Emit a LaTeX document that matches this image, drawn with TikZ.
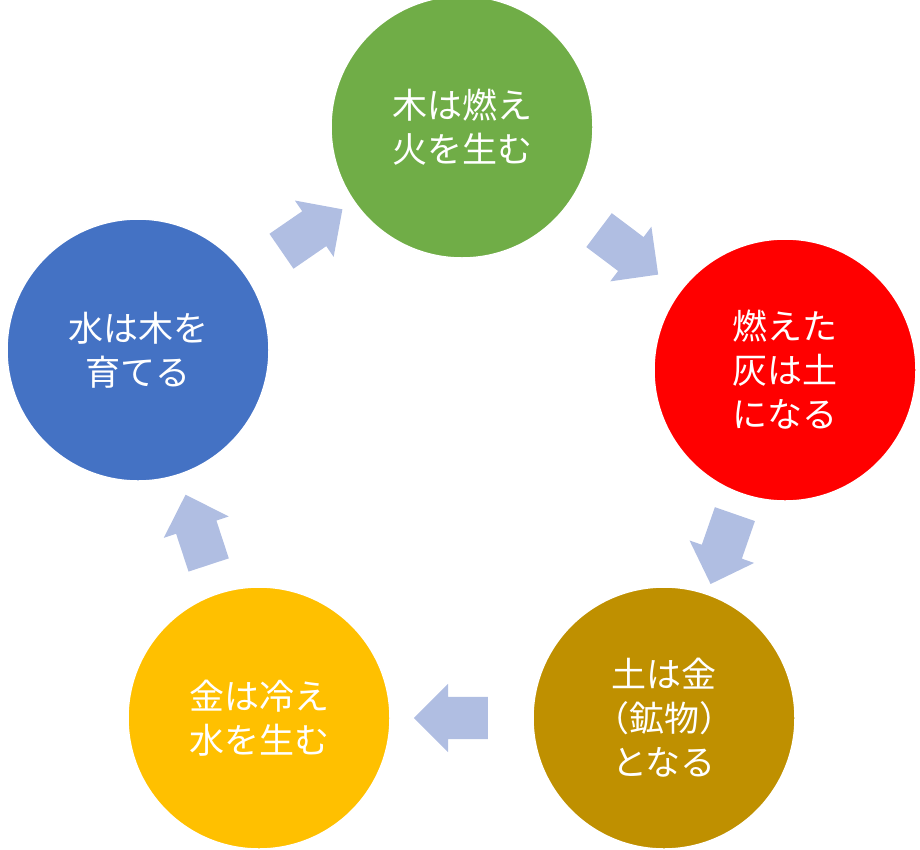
\documentclass[tikz,border=0pt]{standalone}
\usepackage{fontspec}
\newfontfamily\jpfont{Noto Sans CJK JP}
\usetikzlibrary{shapes.arrows}
\definecolor{kgreen}{HTML}{70AD47}
\definecolor{kred}{HTML}{FF0000}
\definecolor{kbrown}{HTML}{BF9000}
\definecolor{kyellow}{HTML}{FFC000}
\definecolor{kblue}{HTML}{4472C4}
\definecolor{karrow}{HTML}{B0BEE2}
\tikzset{
  element/.style={circle, draw=white, line width=1.5pt, minimum size=262pt, inner sep=0pt,
    text=white, align=center, font=\jpfont\fontsize{35}{44}\selectfont},
  flow/.style={single arrow, fill=karrow, draw=none, minimum height=74pt,
    inner xsep=0pt, inner ysep=21pt, single arrow head extend=13pt,
    sloped, allow upside down}
}
\begin{document}
\begin{tikzpicture}[x=1pt,y=-1pt]
\useasboundingbox (0,0) rectangle (920,849);
\node[element, fill=kgreen] (wood) at (462,127) {木は燃え\\火を生む};
\node[element, fill=kred] (fire) at (785,370) {燃えた\\灰は土\\になる};
\node[element, fill=kbrown] (earth) at (664,718) {土は金\\（鉱物）\\となる};
\node[element, fill=kyellow] (metal) at (259,718) {金は冷え\\水を生む};
\node[element, fill=kblue] (water) at (138,350) {水は木を\\育てる};
% arrows between elements
\path (wood) -- node[flow, pos=0.47] {} (fire);
\path (fire) -- node[flow, pos=0.45] {} (earth);
\path (earth) -- node[flow] {} (metal);
\path (metal) -- node[flow, pos=0.45] {} (water);
\path (water) -- node[flow, pos=0.53] {} (wood);
\end{tikzpicture}
\end{document}
